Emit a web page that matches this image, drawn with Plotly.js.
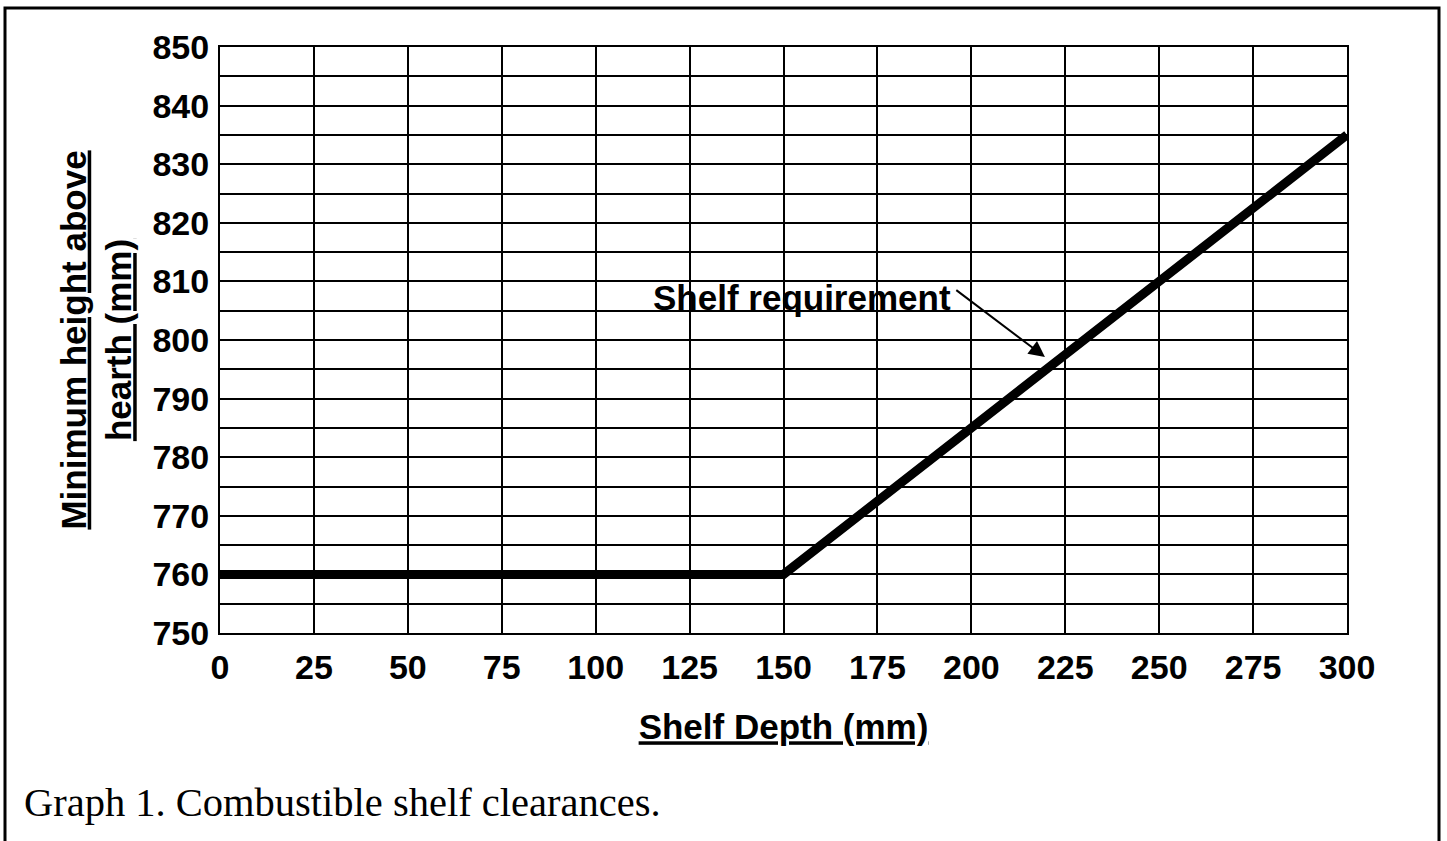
<!DOCTYPE html>
<html>
<head>
<meta charset="utf-8">
<script src="https://cdn.plot.ly/plotly-3.0.1.min.js"></script>
<style>html,body{margin:0;padding:0;background:#fff;}</style>
</head>
<body>
<div id="chart" style="width:1447px;height:841px;"></div>
<script>
// Data
const shelfDepth = [0, 150, 300];
const minHeight = [760, 760, 835];
const xTicks = [0, 25, 50, 75, 100, 125, 150, 175, 200, 225, 250, 275, 300];
const yTicks = [750, 760, 770, 780, 790, 800, 810, 820, 830, 840, 850];
const xTitle = "Shelf Depth (mm)";
const yTitle = "Minimum height above<br>hearth (mm)";
const seriesLabel = "Shelf requirement";
const caption = "Graph 1. Combustible shelf clearances.";

const W = 1447, H = 841;
const L = 220, R = 100, T = 47, B = 208;
const pw = W - L - R, ph = H - T - B;
const px = p => (p - L) / pw;
const py = p => (H - B - p) / ph;

const sans = {family: "Liberation Sans, Arial, sans-serif", color: "#000", weight: "bold"};

const trace = {
  x: shelfDepth, y: minHeight, type: "scatter", mode: "lines",
  line: {color: "#000", width: 9}, name: seriesLabel,
  hoverinfo: "x+y", showlegend: false
};

const layout = {
  width: W, height: H,
  margin: {l: L, r: R, t: T, b: B, pad: 0},
  paper_bgcolor: "#fff", plot_bgcolor: "#fff",
  showlegend: false,
  xaxis: {
    range: [0, 300], tickmode: "array", tickvals: xTicks,
    ticktext: xTicks.map(String),
    showgrid: true, gridcolor: "#000", gridwidth: 2,
    showline: true, linecolor: "#000", linewidth: 2, mirror: true,
    zeroline: false, ticks: "", ticklabelstandoff: 3,
    tickfont: Object.assign({size: 34}, sans),
    title: {text: "<u>" + xTitle + "</u>", font: Object.assign({size: 35}, sans), standoff: 30}
  },
  yaxis: {
    range: [750, 850], tickmode: "array", tickvals: yTicks,
    ticktext: yTicks.map(String),
    showgrid: true, gridcolor: "#000", gridwidth: 2,
    minor: {dtick: 5, showgrid: true, gridcolor: "#000", gridwidth: 2, ticks: ""},
    showline: true, linecolor: "#000", linewidth: 2, mirror: true,
    zeroline: false, ticks: "", ticklabelstandoff: 2,
    tickfont: Object.assign({size: 34}, sans),
    title: {text: "<u>" + yTitle + "</u>", font: Object.assign({size: 35}, sans), standoff: 10}
  },
  shapes: [{
    type: "rect", xref: "paper", yref: "paper",
    x0: px(5), x1: px(1439), y0: py(900), y1: py(8),
    line: {color: "#000", width: 3}, fillcolor: "rgba(0,0,0,0)", layer: "above"
  }],
  annotations: [
    {
      text: seriesLabel, x: 154.9, y: 807.2, xref: "x", yref: "y",
      showarrow: false, xanchor: "center", yanchor: "middle",
      font: Object.assign({size: 35}, sans)
    },
    {
      text: "", x: 219.6, y: 797.1, xref: "x", yref: "y",
      ax: 195.6, ay: 808.7, axref: "x", ayref: "y",
      showarrow: true, arrowhead: 2, arrowsize: 1.6, arrowwidth: 2, arrowcolor: "#000"
    },
    {
      text: caption, xref: "paper", yref: "paper",
      x: px(22), y: py(802), xanchor: "left", yanchor: "middle",
      showarrow: false,
      font: {family: "Liberation Serif, Times New Roman, serif", size: 40.5, color: "#000"}
    }
  ]
};

Plotly.newPlot("chart", [trace], layout, {displayModeBar: false, staticPlot: true});
</script>
</body>
</html>
